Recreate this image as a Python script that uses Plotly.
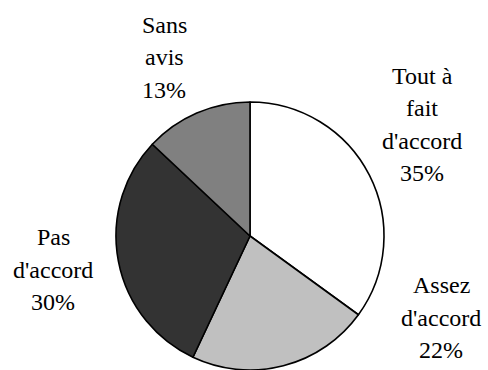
import plotly.graph_objects as go

# Data
labels = ["Tout à fait d'accord", "Assez d'accord", "Pas d'accord", "Sans avis"]
values = [35, 22, 30, 13]
label_lines = [["Tout à", "fait", "d'accord"], ["Assez", "d'accord"], ["Pas", "d'accord"], ["Sans", "avis"]]
colors = ["#ffffff", "#c0c0c0", "#333333", "#808080"]

W, H = 488, 370
# label block placement (pixel centre x, centre y of last line)
label_pos = [(422, 173), (441, 350), (53, 302), (164, 90)]
line_gap = 32.5

fig = go.Figure(go.Pie(
    labels=labels, values=values, sort=False, direction="clockwise", rotation=0,
    marker=dict(colors=colors, line=dict(color="black", width=1.6)),
    textinfo="none", hoverinfo="label+percent", showlegend=False,
    domain=dict(x=[116 / W, 384 / W], y=[0, 268 / H]),
))

annotations = []
for lines, v, (px, py) in zip(label_lines, values, label_pos):
    all_lines = lines + [f"{v}%"]
    n = len(all_lines)
    for i, t in enumerate(all_lines):
        y = py - (n - 1 - i) * line_gap
        annotations.append(dict(
            text=t, x=px / W, y=1 - y / H, xref="paper", yref="paper",
            xanchor="center", yanchor="middle", showarrow=False,
            font=dict(family="Liberation Serif", size=24, color="black"),
        ))

fig.update_layout(
    width=W, height=H, margin=dict(l=0, r=0, t=0, b=0),
    paper_bgcolor="white", plot_bgcolor="white",
    annotations=annotations,
)
fig.write_html("out.html")
